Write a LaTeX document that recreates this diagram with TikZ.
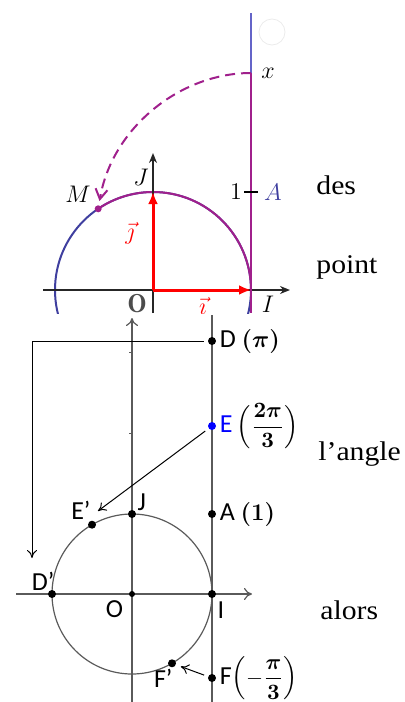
\documentclass[tikz,border=0pt]{standalone}
\usepackage{amsmath,bm}
\usepackage{fontspec}
\setsansfont{Carlito}
\newfontfamily\sidefont[FakeStretch=1.1]{Liberation Serif}
\usepackage{tikz}
\usetikzlibrary{arrows.meta,positioning,calc}
\definecolor{CircBlue}{HTML}{3F3F9F}
\definecolor{LineBlue}{HTML}{6464C8}
\definecolor{ArcPurple}{HTML}{A0208C}
\definecolor{GridGray}{HTML}{5A5A5A}
\definecolor{PtBlue}{HTML}{0000FF}
% parentheses at label size, fraction set smaller
\newcommand{\fracpar}[2]{{\fontsize{12}{14}\selectfont$\Bigl($}{\fontsize{10.5}{12}\selectfont$#1\dfrac{\bm{#2}}{\bm{3}}$}{\fontsize{12}{14}\selectfont$\Bigr)$}}
\tikzset{
  topaxis/.style={-{Stealth[length=5pt,width=4pt]},line width=0.8pt,color=black!85},
  vecarrow/.style={-{Latex[length=6pt,width=5pt]},line width=1.5pt,color=red},
  dasharc/.style={-{Straight Barb[length=5pt,width=6pt]},dashed,dash pattern=on 5pt off 3pt,line width=1pt,color=ArcPurple},
  toplbl/.style={font=\fontsize{13}{15}\selectfont,inner sep=0pt},
  gridline/.style={line width=0.6pt,color=GridGray},
  gridaxis/.style={-{To[length=4pt,width=6pt]},line width=0.6pt,color=GridGray},
  dot/.style={circle,fill=black,inner sep=0pt,minimum size=4pt},
  smalldot/.style={circle,fill=black,inner sep=0pt,minimum size=3pt},
  lbl/.style={font=\sffamily\fontsize{13}{15}\selectfont,inner sep=1pt},
  maparrow/.style={-{To[length=4pt,width=5pt]},line width=0.5pt},
  sidetext/.style={anchor=base west,font=\sidefont\fontsize{13.5}{16}\selectfont,inner sep=0pt},
}

\begin{document}
\begin{tikzpicture}[x=0.5pt,y=-0.5pt]
  \useasboundingbox (0,0) rectangle (404,702);

  % Top figure: the line wound on the circle
  \begin{scope}
    \clip (0,0) rectangle (300,313);
    \coordinate (O1) at (153,290);
    \coordinate (I1) at (251,290);
    \coordinate (J1) at (153,192);
    \coordinate (Xtop) at (251,13);
    \coordinate (X) at (251,73);
    \coordinate (Xbot) at (251,313);
    \draw[black!8] (272,32) circle (13);
    \draw[CircBlue, line width=1pt] (O1) circle (98);
    \draw[ArcPurple, line width=1pt] (I1) arc[start angle=0, end angle=-124, radius=98];
    \draw[topaxis] (43,290) -- (290,290);
    \draw[topaxis] (153,313) -- (153,153);
    \draw[LineBlue, line width=0.9pt] (Xtop) -- (X);
    \draw[ArcPurple, line width=0.9pt] (X) -- (Xbot);
    \draw[vecarrow] (O1) -- (I1);
    \draw[vecarrow] (O1) -- (J1);
    \node[circle, fill=ArcPurple, inner sep=0pt, minimum size=3.5pt] (M) at (98.2,208.8) {};
    \draw[dasharc, shorten >=2pt] (X) .. controls (180,73) and (112,128) .. (M);
    \draw[line width=0.7pt] (244,192) -- (258,192);
    % Labels
    \node[toplbl] at (78,194) {$M$};
    \node[toplbl] at (141,177) {$J$};
    \node[toplbl] at (268,73) {$x$};
    \node[toplbl] at (236,192) {$1$};
    \node[toplbl, text=CircBlue] at (273,192) {$A$};
    \node[toplbl, text=black!70] at (137,304) {$\mathbf{O}$};
    \node[toplbl] at (268,304) {$I$};
    \node[toplbl, text=red] at (130,233) {$\vec{\jmath}$};
    \node[toplbl, text=red] at (203,306) {$\vec{\imath}$};
  \end{scope}

  % Bottom figure: points of the line and their images
  \coordinate (O2) at (132,594);
  \draw[gridaxis] (132,702) -- (132,318);
  \draw[gridaxis] (16,594) -- (252,594);
  \draw[gridline] (212,315) -- (212,702);
  \draw[gridline] (O2) circle (80);
  \draw[gridline, line width=0.4pt] (129,352) -- (132,352);
  \draw[gridline, line width=0.4pt] (129,433) -- (132,433);

  % Points on the tangent line
  \node[dot] (D) at (212,341) {};
  \node[dot, fill=PtBlue] (E) at (212,426) {};
  \node[dot] (A) at (212,514) {};
  \node[dot] (I) at (212,594) {};
  \node[dot] (F) at (212,678) {};

  % Points on the circle
  \node[dot] (Ep) at (92,524.7) {};
  \node[dot] (Dp) at (52,594) {};
  \node[dot] (Fp) at (172,663.3) {};
  \node[dot] (J) at (132,514) {};
  \node[smalldot] (O) at (O2) {};

  % Labels
  \node[lbl, right=0.5pt of D, anchor=west] {D $\bm{(\pi)}$};
  \node[lbl, right=0.5pt of E, anchor=west] {\textcolor{PtBlue}{E}\,\fracpar{}{2\pi}};
  \node[lbl, right=0.5pt of A, anchor=west] {A $\bm{(1)}$};
  \node[lbl, right=0.5pt of F, anchor=west] {F\fracpar{-}{\pi}};
  \node[lbl, above left=0pt and -2pt of Ep] {E'};
  \node[lbl, above right=-1pt and 0pt of J] {J};
  \node[lbl, above left=-1pt and -4pt of Dp] {D'};
  \node[lbl, below left=1pt and 2pt of O] {O};
  \node[lbl, below right=1pt and 0pt of I] {I};
  \node[lbl, below left=0pt and -3pt of Fp] {F'};

  % Arrows to the circle
  \coordinate (Dend) at (32,558);
  \coordinate (Eend) at (98,511);
  \draw[maparrow, shorten <=2pt] (D) -| (Dend);
  \draw[maparrow, shorten <=2pt] (E) -- (Eend);
  \draw[maparrow, shorten <=2pt, shorten >=2.5pt] (F) -- (Fp);

  % Side text
  \node[sidetext] (w1) at (316,194) {des};
  \node[sidetext] (w2) at (316,273) {point};
  \node[sidetext] (w3) at (318,460) {l’angle};
  \node[sidetext] (w4) at (320,619) {alors};
\end{tikzpicture}
\end{document}
